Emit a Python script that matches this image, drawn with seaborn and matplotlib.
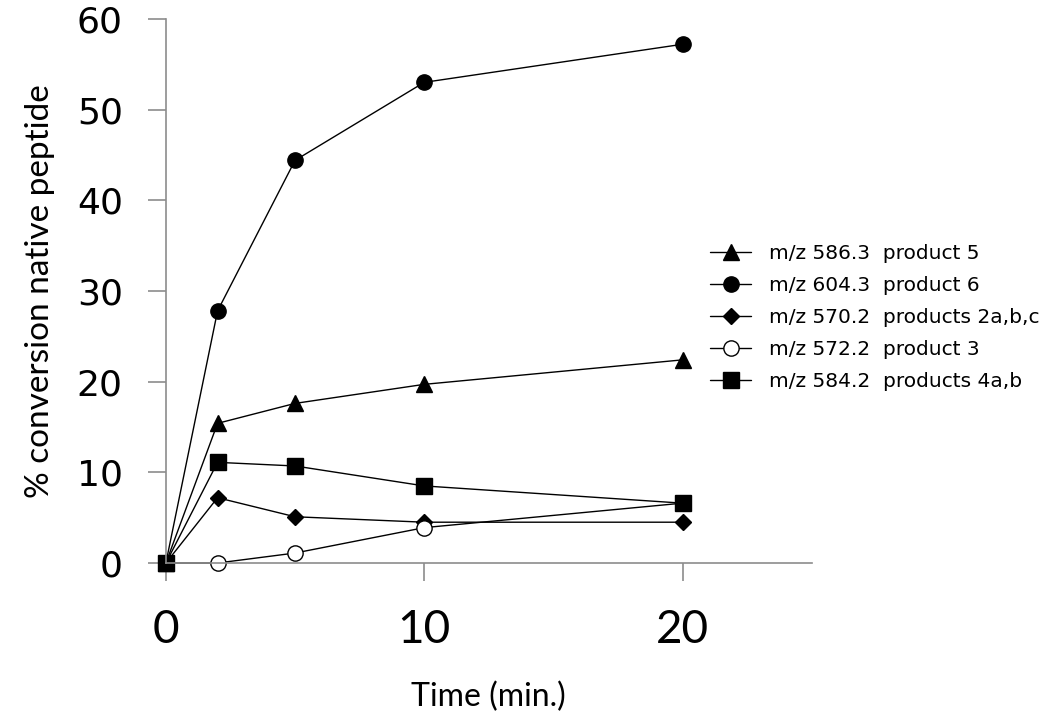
import pandas as pd
import seaborn as sns
import matplotlib.pyplot as plt

# Datos
tiempo = [0, 2, 5, 10, 20]
prod5 = [0, 15.4, 17.6, 19.7, 22.4]
prod6 = [0, 27.8, 44.4, 53.0, 57.2]
prod2abc = [0, 7.2, 5.1, 4.5, 4.5]
prod3 = [0, 0, 1.1, 3.9, 6.6]
prod4ab = [0, 11.1, 10.7, 8.5, 6.6]

etiquetas = ["m/z 586.3  product 5", "m/z 604.3  product 6",
             "m/z 570.2  products 2a,b,c", "m/z 572.2  product 3",
             "m/z 584.2  products 4a,b"]

sns.set_style("white")
plt.rcParams['font.family'] = ['DejaVu Sans']
plt.rcParams['text.color'] = 'black'
plt.rcParams['axes.labelcolor'] = 'black'
plt.rcParams['xtick.color'] = 'black'
plt.rcParams['ytick.color'] = 'black'

fig = plt.figure(figsize=(10.5, 7.26), dpi=100)
ax = fig.add_axes([0.158, 0.2245, 0.615, 0.7495])

series = [
    (prod5, '^', 'black', 11),
    (prod6, 'o', 'black', 11),
    (prod2abc, 'D', 'black', 8),
    (prod3, 'o', 'white', 11),
    (prod4ab, 's', 'black', 12),
]
for (vals, mk, fc, ms), lab in zip(series, etiquetas):
    sns.lineplot(x=tiempo, y=vals, ax=ax, color='black', linewidth=1,
                 marker=mk, markerfacecolor=fc, markeredgecolor='black',
                 markersize=ms, markeredgewidth=1, label=lab, clip_on=False)

ax.set_xlim(0, 25)
ax.set_ylim(0, 60)
ax.set_xticks([0, 10, 20])
ax.set_yticks(range(0, 61, 10))

for s in ['top', 'right']:
    ax.spines[s].set_visible(False)
for s in ['left', 'bottom']:
    ax.spines[s].set_color('#8c8c8c')
    ax.spines[s].set_linewidth(1.2)

ax.tick_params(axis='both', direction='out', length=13, width=1.2,
               color='#8c8c8c', labelcolor='black', left=True, bottom=True)
ax.tick_params(axis='y', labelsize=26, pad=18)
ax.tick_params(axis='x', labelsize=33, pad=20)
for t in ax.get_xticklabels():
    t.set_family('Lato')

ax.set_xlabel('Time (min.)', fontsize=23, family='Lato', labelpad=22)
ax.set_ylabel('% conversion native peptide', fontsize=24, family='Lato', labelpad=16)

ax.get_legend().remove()
h, l = ax.get_legend_handles_labels()
fig.legend(h, l, loc='upper left', bbox_to_anchor=(0.667, 1 - 234 / 726),
           frameon=False, fontsize=14.5, handlelength=2.0, handletextpad=0.9,
           labelspacing=0.64, borderpad=0)

fig.savefig('out.png', dpi=100, facecolor='white')
